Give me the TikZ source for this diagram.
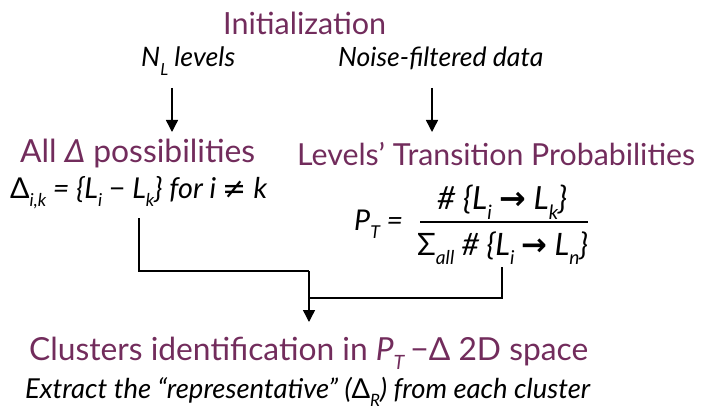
\documentclass[tikz,border=0pt]{standalone}
\usepackage{fontspec}
\setmainfont{Lato}
\newfontfamily\symf{DejaVu Sans}
\usetikzlibrary{arrows.meta}
\definecolor{hdr}{RGB}{114,44,92}
% lowered, smaller subscript
\newcommand\sbs[1]{\raisebox{-0.3em}{\scalebox{0.62}{#1}}}
% text scaled to a given width (pt)
\newcommand\fitw[2]{\resizebox{#1pt}{!}{#2}}
\begin{document}
\begin{tikzpicture}[x=1pt,y=-1pt,
  head/.style={text=hdr, anchor=base west, inner sep=0pt},
  body/.style={anchor=base west, inner sep=0pt, font=\itshape},
  flow/.style={line width=1.4pt, -{Triangle[width=12pt,length=12pt]}},
  link/.style={line width=1.4pt}]
\useasboundingbox (0,0) rectangle (707,409);

% headings and their inputs
\node[head] (init) at (223,34.5) {\fitw{163}{Initialization}};
\node[body] (nl) at (141,67) {\fitw{94}{N\sbs{L} levels}};
\node[body] (noise) at (338,67) {\fitw{205}{Noise-filtered data}};

\coordinate (nlOut) at (172,88);   \coordinate (allIn) at (172,132);
\coordinate (nfOut) at (432,88);   \coordinate (ltpIn) at (432,132);
\draw[flow] (nlOut) -- (allIn);
\draw[flow] (nfOut) -- (ltpIn);

% differences between levels
\node[head] (alld) at (20,163) {\fitw{235}{All \textit{Δ} possibilities}};
\node[body] (deltas) at (10,198)
  {\fitw{257}{{\upshape Δ}\sbs{i,k} = \{L\sbs{i} {\upshape −} L\sbs{k}\} for i {\upshape\symf ≠} k}};

% transition probabilities
\node[head] (ltp) at (297,165) {\fitw{398}{Levels’ Transition Probabilities}};
\node[body] (pt) at (354,230) {\fitw{49}{P\sbs{T} =}};
\node[body] (num) at (437,210) {\fitw{130}{\# \{L\sbs{i} {\upshape\symf\bfseries →} L\sbs{k}\}}};
\coordinate (barL) at (420,222); \coordinate (barR) at (588,222);
\draw[link] (barL) -- (barR);
\node[body] (den) at (417,255)
  {\fitw{171}{{\upshape Σ}\sbs{all} \# \{L\sbs{i} {\upshape\symf\bfseries →} L\sbs{n}\}}};

% merging into the clustering step
\coordinate (dOut) at (139,218);
\coordinate (pOut) at (502,267);
\coordinate (m1) at (309,271);
\coordinate (m2) at (309,298);
\coordinate (clIn) at (309,322);
\draw[link] (dOut) |- (m1);
\draw[link] (pOut) |- (m2);
\draw[flow] (m1) -- (clIn);

\node[head] (clus) at (29,360)
  {\fitw{559}{Clusters identification in \textit{P}\sbs{\textit{T}}\,−Δ 2D space}};
\node[body] (extr) at (25,398)
  {\fitw{565}{Extract the “representative” ({\upshape Δ}\sbs{R}) from each cluster}};
\end{tikzpicture}
\end{document}
